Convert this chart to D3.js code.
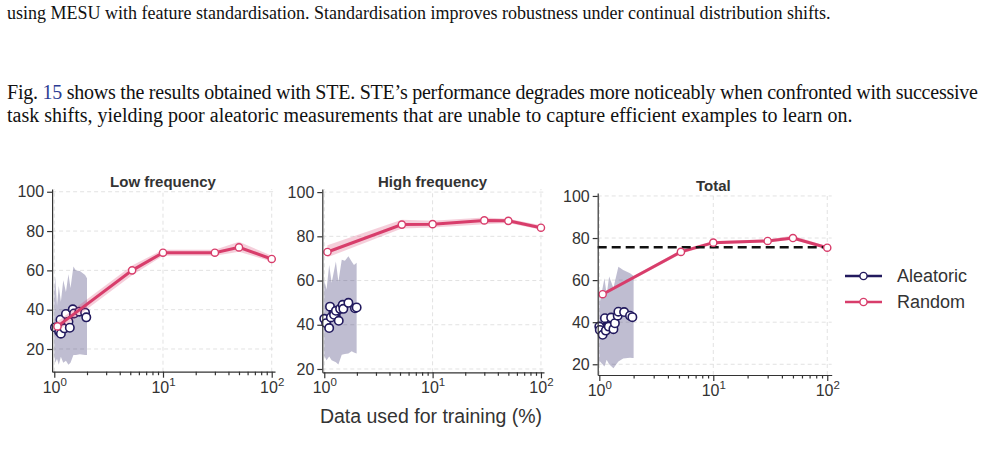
<!DOCTYPE html>
<html>
<head>
<meta charset="utf-8">
<script src="https://cdn.jsdelivr.net/npm/d3@7"></script>
<style>
  body { margin: 0; background: #fff; }
  .chart text { font-family: "Liberation Sans", Arial, sans-serif; fill: #333; }
  .chart text.para { font-family: "Liberation Serif", "Times New Roman", serif; font-size: 20px; fill: #111; }
  .chart text.para.caption { font-size: 18px; }
  .grid line { stroke: #e2e2e2; stroke-dasharray: 4,3; }
  .axis path, .axis line { stroke: #333; stroke-width: 1.2; }
</style>
</head>
<body>
<script>
// ************** values *************************************
var pctX = [1.07, 5.2, 10, 30, 50, 100];   // random sampling, % of data

var lowRandom   = [31.5, 60, 69, 69, 71.7, 65.8];
var lowRandomLo = [29, 57.5, 67.5, 67.5, 69.5, 64.5];
var lowRandomHi = [34, 62.5, 70.5, 70.5, 74.5, 67.5];

var highRandom   = [72.9, 85.3, 85.5, 87.2, 87, 83.9];
var highRandomLo = [70.5, 83.5, 84, 85.5, 86, 83];
var highRandomHi = [76, 87.5, 87, 88.5, 88, 85];

var totRandom   = [53.3, 73.4, 77.8, 78.6, 80, 75.4];
var totRandomLo = [52.5, 72.5, 77, 78, 79.2, 74.8];
var totRandomHi = [54, 74.3, 78.6, 79.3, 81.2, 76];

var lowAleX = [1.015, 1.11, 1.14, 1.15, 1.24, 1.28, 1.35, 1.39, 1.48, 1.52, 1.70, 1.92, 1.97];
var lowAleY = [31.0, 28.8, 34.9, 27.8, 30.5, 37.8, 33.9, 30.8, 40.2, 38.1, 39.0, 38.5, 36.1];
var lowBandX  = [1.0, 1.02, 1.06, 1.1, 1.15, 1.21, 1.28, 1.35, 1.41, 1.5, 1.58, 1.72, 1.92, 2.0];
var lowBandHi = [49, 57, 42, 52, 44, 55, 49, 58, 51, 62, 60, 59.7, 57.6, 56];
var lowBandLo = [17, 13, 15, 12, 16, 13, 14, 12, 13, 17, 17, 17.3, 17, 17];

var highAleX = [1.0, 1.04, 1.11, 1.13, 1.15, 1.23, 1.28, 1.36, 1.40, 1.48, 1.50, 1.67, 1.92, 1.99];
var highAleY = [42.7, 40.7, 38.5, 48.2, 43.3, 44.5, 46.3, 41.8, 47.2, 49.0, 47.2, 49.9, 47.5, 47.8];
var highBandX  = [1.0, 1.05, 1.11, 1.17, 1.28, 1.35, 1.45, 1.55, 1.67, 1.79, 1.88, 1.99];
var highBandHi = [60, 56, 67, 59, 68.6, 59.5, 69.4, 69, 71, 68.6, 67, 68];
var highBandLo = [26, 24, 25.6, 24, 23, 22, 26.4, 26.8, 27, 28, 27.5, 27];

var totAleX = [1.0, 1.01, 1.07, 1.12, 1.14, 1.21, 1.27, 1.33, 1.37, 1.45, 1.47, 1.65, 1.86, 1.95];
var totAleY = [37.9, 36.3, 34.0, 41.9, 36.0, 37.9, 42.2, 36.7, 39.5, 43.1, 45.0, 44.8, 43.1, 42.4];
var totBandX  = [1.0, 1.014, 1.11, 1.16, 1.22, 1.33, 1.47, 1.62, 1.86, 1.95, 2.0];
var totBandHi = [54.5, 49.8, 60.9, 53, 61.7, 56.2, 66.4, 64.8, 63.3, 62.4, 62];
var totBandLo = [19.7, 21.3, 18.9, 22.2, 20, 18.1, 21.3, 22.8, 23.1, 23, 23];

var totalBaseline = 75.6;

var yTicks = [20, 40, 60, 80, 100];
var xMajor = [1, 10, 100];
var xMinor = [2, 3, 4, 5, 6, 7, 8, 9, 20, 30, 40, 50, 60, 70, 80, 90];
var seriesNames = ["Aleatoric", "Random"];

var aleColor = "#221a5e", randColor = "#d83d6b";

// ************** page *****************
var w = 985, h = 449;
var svg = d3.select("body").append("svg")
    .attr("width", w)
    .attr("height", h)
    .attr("class", "chart");

svg.append("rect").attr("width", w).attr("height", h).attr("fill", "#fff");

// surrounding paper text (tail of previous caption, then body paragraph)
svg.append("text").attr("class", "para caption").attr("x", 7).attr("y", 19)
  .text("using MESU with feature standardisation. Standardisation improves robustness under continual distribution shifts.");

var l1 = svg.append("text").attr("class", "para").attr("x", 7).attr("y", 99)
  .attr("textLength", 971).attr("lengthAdjust", "spacing");
l1.append("tspan").text("Fig. ");
l1.append("tspan").style("fill", "#2a3c93").text("15");
l1.append("tspan").text(" shows the results obtained with STE. STE\u2019s performance degrades more noticeably when confronted with successive");

svg.append("text").attr("class", "para").attr("x", 7).attr("y", 122)
  .text("task shifts, yielding poor aleatoric measurements that are unable to capture efficient examples to learn on.");

// ************** panels *****************
var panels = [
  {title: "Low frequency", ty: 187, xr: [52.1, 275], xd: [0.955, 107.2], yr: [371.7, 189], yd: [8.45, 101.4],
   rand: lowRandom, lo: lowRandomLo, hi: lowRandomHi, ax: lowAleX, ay: lowAleY, bx: lowBandX, blo: lowBandLo, bhi: lowBandHi},
  {title: "High frequency", ty: 187, xr: [322.3, 544], xd: [0.959, 106.7], yr: [372.3, 189], yd: [18.5, 101.4],
   rand: highRandom, lo: highRandomLo, hi: highRandomHi, ax: highAleX, ay: highAleY, bx: highBandX, blo: highBandLo, bhi: highBandHi},
  {title: "Total", ty: 191, xr: [597.7, 831.7], xd: [0.968, 109.4], yr: [375, 193], yd: [14.9, 101.4],
   rand: totRandom, lo: totRandomLo, hi: totRandomHi, ax: totAleX, ay: totAleY, bx: totBandX, blo: totBandLo, bhi: totBandHi,
   baseline: totalBaseline}
];

panels.forEach(function(p) {
  var x = d3.scaleLog().domain(p.xd).range(p.xr);
  var y = d3.scaleLinear().domain(p.yd).range(p.yr);
  var g = svg.append("g");

  // grid
  var grid = g.append("g").attr("class", "grid");
  grid.selectAll(".gy").data(yTicks).enter().append("line")
    .attr("x1", p.xr[0]).attr("x2", p.xr[1])
    .attr("y1", function(d) { return y(d); }).attr("y2", function(d) { return y(d); });
  grid.selectAll(".gx").data(xMajor).enter().append("line")
    .attr("y1", p.yr[0]).attr("y2", p.yr[1])
    .attr("x1", function(d) { return x(d); }).attr("x2", function(d) { return x(d); });

  // aleatoric band + line
  var bandIdx = d3.range(p.bx.length);
  g.append("path")
    .attr("fill", "#2a2466").attr("fill-opacity", 0.3)
    .attr("d", d3.area()
      .x(function(i) { return x(p.bx[i]); })
      .y0(function(i) { return y(p.blo[i]); })
      .y1(function(i) { return y(p.bhi[i]); })(bandIdx));

  var aIdx = d3.range(p.ax.length);
  g.append("path")
    .attr("fill", "none").attr("stroke", aleColor).attr("stroke-width", 2.5)
    .attr("d", d3.line().x(function(i) { return x(p.ax[i]); }).y(function(i) { return y(p.ay[i]); })(aIdx));
  g.selectAll(".ale").data(aIdx).enter().append("circle")
    .attr("cx", function(i) { return x(p.ax[i]); })
    .attr("cy", function(i) { return y(p.ay[i]); })
    .attr("r", 4.2).attr("fill", "#fff").attr("stroke", aleColor).attr("stroke-width", 1.6);

  // random band + line
  var rIdx = d3.range(pctX.length);
  g.append("path")
    .attr("fill", randColor).attr("fill-opacity", 0.25)
    .attr("d", d3.area()
      .x(function(i) { return x(pctX[i]); })
      .y0(function(i) { return y(p.lo[i]); })
      .y1(function(i) { return y(p.hi[i]); })(rIdx));
  g.append("path")
    .attr("fill", "none").attr("stroke", randColor).attr("stroke-width", 3)
    .attr("d", d3.line().x(function(i) { return x(pctX[i]); }).y(function(i) { return y(p.rand[i]); })(rIdx));

  if (p.baseline !== undefined) {
    g.append("line")
      .attr("x1", p.xr[0]).attr("x2", p.xr[1])
      .attr("y1", y(p.baseline)).attr("y2", y(p.baseline))
      .attr("stroke", "#111").attr("stroke-width", 2.5).attr("stroke-dasharray", "9,5");
  }

  g.selectAll(".rnd").data(rIdx).enter().append("circle")
    .attr("cx", function(i) { return x(pctX[i]); })
    .attr("cy", function(i) { return y(p.rand[i]); })
    .attr("r", 3.6).attr("fill", "#fff").attr("stroke", randColor).attr("stroke-width", 1.4);

  // axes
  g.append("g").attr("class", "axis")
    .attr("transform", "translate(" + p.xr[0] + ",0)")
    .call(d3.axisLeft(y).tickValues(yTicks).tickSize(5).tickPadding(3).tickSizeOuter(0))
    .selectAll("text").style("font-size", "16px");

  var xb = g.append("g").attr("class", "axis")
    .attr("transform", "translate(0," + p.yr[0] + ")");
  xb.call(d3.axisBottom(x).tickValues(xMinor).tickSize(3.5).tickFormat("").tickSizeOuter(0));
  var xm = g.append("g").attr("class", "axis")
    .attr("transform", "translate(0," + p.yr[0] + ")")
    .call(d3.axisBottom(x).tickValues(xMajor).tickSize(6).tickPadding(3).tickFormat("").tickSizeOuter(0));
  xm.select(".domain").remove();
  xm.selectAll(".tick").append("text")
    .attr("y", 21).attr("text-anchor", "middle").style("font-size", "16px")
    .each(function(d) {
      var t = d3.select(this);
      t.append("tspan").text("10");
      t.append("tspan").attr("dy", -7).style("font-size", "11.5px").text(Math.round(Math.log10(d)));
    });

  g.append("text")
    .attr("x", x(10)).attr("y", p.ty)
    .attr("text-anchor", "middle")
    .style("font-size", "15px").style("font-weight", "bold")
    .text(p.title);
});

// x label
svg.append("text")
  .attr("x", 431).attr("y", 423)
  .attr("text-anchor", "middle")
  .style("font-size", "19.5px")
  .text("Data used for training (%)");

// ************** legend *****************
var legend = svg.append("g").attr("transform", "translate(845,276)");
var legendColors = [aleColor, randColor];
var item = legend.selectAll(".item").data(seriesNames).enter().append("g")
  .attr("transform", function(d, i) { return "translate(0," + i * 26 + ")"; });
item.append("line").attr("x1", 0).attr("x2", 37).attr("y1", 0).attr("y2", 0)
  .attr("stroke", function(d, i) { return legendColors[i]; }).attr("stroke-width", 2.5);
item.append("circle").attr("cx", 18.5).attr("cy", 0).attr("r", 3.6)
  .attr("fill", "#fff").attr("stroke", function(d, i) { return legendColors[i]; }).attr("stroke-width", 1.4);
item.append("text").attr("x", 52).attr("y", 6)
  .style("font-size", "18px")
  .text(function(d) { return d; });
</script>
</body>
</html>
